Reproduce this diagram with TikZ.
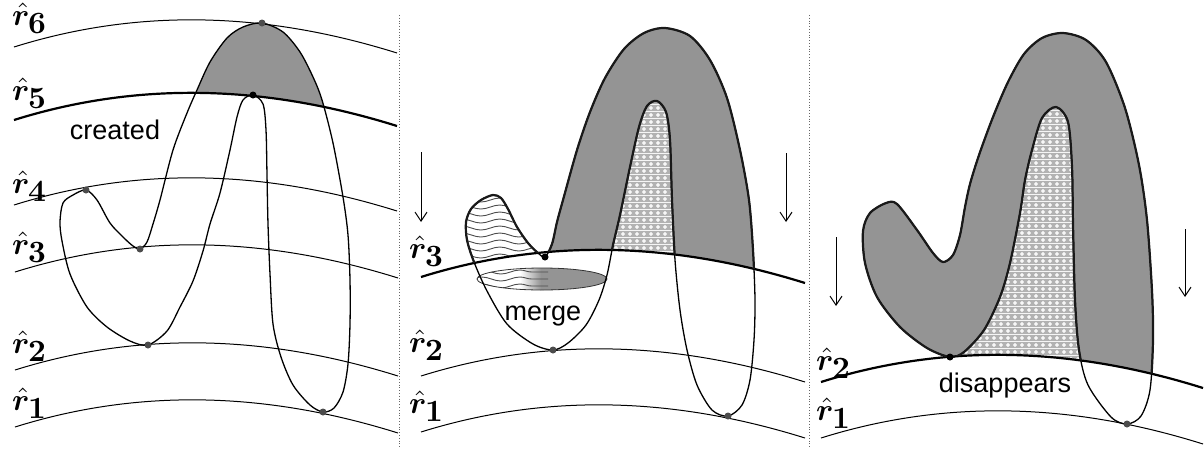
\documentclass[tikz,border=0pt]{standalone}
\usepackage{fontspec}
\usepackage{graphicx}
\usepackage{bm}
\usetikzlibrary{arrows.meta,patterns.meta,decorations.pathmorphing}
\newfontfamily\labfont{Liberation Sans}

% light grey tile with white plus signs
\tikzdeclarepattern{
  name=plusgrid,
  type=colored,
  bottom left={(0pt,0pt)},
  top right={(6.5pt,6.5pt)},
  tile size={(6.5pt,6.5pt)},
  code={
    \fill[black!30] (0pt,0pt) rectangle (6.5pt,6.5pt);
    \draw[white,line width=1.2pt] (1.2pt,3.25pt) -- (5.3pt,3.25pt) (3.25pt,1.2pt) -- (3.25pt,5.3pt);
  }
}

% a level line r = const, bulging upwards
\newcommand\lvl[3]{(#1,#2) .. controls ({#1+(#3-#1)/3},{#2-40}) and ({#3-(#3-#1)/3},{#2-34}) .. (#3,{#2+6})}
% the region above such a level line
\newcommand\abovelvl[3]{\lvl{#1}{#2}{#3} -- (#3,-40) -- (#1,-40) -- cycle}

% the closed contour in the three stages
\def\curveA{plot[smooth cycle] coordinates {(262,23) (283,32) (300,52) (313,77) (322,100) (333,143) (343,197) (348,235) (350,280) (350,324) (348,364) (343,392) (334,408) (323,412) (310,405) (293,385) (281,357) (273,324) (270,274) (268,224) (267,175) (266,130) (263,104) (253,95) (243,100) (237,117) (230,150) (220,193) (210,224) (203,251) (193,281) (180,307) (167,331) (148,345) (130,341) (107,327) (87,307) (70,274) (62,241) (60,222) (63,203) (73,195) (86,190) (97,200) (110,223) (123,237) (133,246) (140,249) (147,242) (153,224) (160,200) (173,150) (187,113) (197,90) (210,62) (227,38) (243,27)}}
\def\curveB{plot[smooth cycle] coordinates {(665,28) (690,36) (710,60) (727,98) (740,150) (749,200) (753,250) (755,300) (754,340) (750,380) (742,405) (728,416) (712,410) (697,385) (687,350) (680,310) (675,260) (672,200) (670,140) (666,112) (657,101) (647,106) (639,127) (630,167) (620,215) (613,245) (607,275) (599,300) (586,325) (568,343) (553,350) (533,344) (507,324) (487,291) (474,262) (467,240) (466,222) (471,209) (481,200) (493,195) (501,198) (508,209) (517,227) (528,243) (538,253) (545,257) (552,244) (557,222) (563,200) (577,150) (590,112) (605,78) (624,49) (644,33)}}
\def\holeB{plot[smooth] coordinates {(697,385) (687,350) (680,310) (675,260) (672,200) (670,140) (666,112) (657,101) (647,106) (639,127) (630,167) (620,215) (613,245) (607,275) (599,300) (586,325)} -- cycle}
\def\curveC{plot[smooth cycle] coordinates {(1063,33) (1086,40) (1106,62) (1125,108) (1139,165) (1147,220) (1152,291) (1153,340) (1150,390) (1141,416) (1127,424) (1111,417) (1088,385) (1079,350) (1075,300) (1073,224) (1072,167) (1068,122) (1056,107) (1042,118) (1032,150) (1025,180) (1020,213) (1010,263) (1000,297) (984,330) (964,352) (950,357) (927,348) (900,327) (877,297) (865,263) (863,231) (870,213) (886,203) (897,204) (917,230) (933,253) (943,262) (953,255) (960,235) (965,207) (970,184) (979,155) (993,117) (1008,82) (1024,54) (1042,38)}}
\def\holeC{plot[smooth] coordinates {(1111,417) (1088,385) (1079,350) (1075,300) (1073,224) (1072,167) (1068,122) (1056,107) (1042,118) (1032,150) (1025,180) (1020,213) (1010,263) (1000,297) (984,330) (964,352) (950,357)} -- (950,445) -- (1111,445) -- cycle}

% level label: bold r with a hat and its index
\newcommand\rl[1]{\scalebox{3.1}{$\bm{\hat{r}}\kern-0.5pt\lower2.6pt\hbox{$\bm{#1}$}$}}

\begin{document}
\begin{tikzpicture}[x=1pt,y=-1pt,
  thinlvl/.style={line width=1pt,black},
  thicklvl/.style={line width=2.2pt,black},
  contour/.style={line width=1.3pt,black},
  rim/.style={line width=2.2pt,black!90},
  band/.style={fill=black!42},
  hole/.style={pattern=plusgrid},
  hatch/.style={black!70,line width=0.9pt,decorate,decoration={snake,amplitude=2pt,segment length=38pt}},
  crit/.style={circle,fill=black!70,inner sep=0pt,minimum size=7pt},
  critbold/.style={crit,fill=black},
  word/.style={font=\fontsize{27}{27}\selectfont\labfont,inner sep=0pt,anchor=base},
  rlab/.style={inner sep=0pt,anchor=base west},
  fall/.style={line width=1pt,-{Straight Barb[length=9pt,width=12pt]}},
  sep/.style={dotted,line width=0.8pt,black!60}]
\useasboundingbox (0,0) rectangle (1204,448);
\fill[white] (0,0) rectangle (1204,448);

% ---------- stage 1: a component is created at r5 ----------
\begin{scope}
  \clip \abovelvl{14}{120}{397};
  \fill[band] \curveA;
\end{scope}
\draw[thinlvl] \lvl{14}{47}{397};
\draw[thicklvl] \lvl{14}{120}{397};
\draw[thinlvl] \lvl{14}{205}{397};
\draw[thinlvl] \lvl{15}{272}{398};
\draw[thinlvl] \lvl{15}{370}{398};
\draw[thinlvl] \lvl{15}{427}{398};
\draw[contour] \curveA;
\node[crit] (a6) at (262,23) {};
\node[critbold] (a5) at (253,95) {};
\node[crit] (a4) at (86,190) {};
\node[crit] (a3) at (140,249) {};
\node[crit] (a2) at (148,345) {};
\node[crit] (a1) at (323,412) {};
\node[rlab] (la6) at (12,25) {\rl{6}};
\node[rlab] (la5) at (12,100) {\rl{5}};
\node[rlab] (la4) at (12,193) {\rl{4}};
\node[rlab] (la3) at (12,254) {\rl{3}};
\node[rlab] (la2) at (12,353) {\rl{2}};
\node[rlab] (la1) at (12,410) {\rl{1}};
\node[word] (created) at (115,139) {created};

\coordinate (s1t) at (399.5,15);
\coordinate (s1b) at (399.5,448);
\draw[sep] (s1t) -- (s1b);

% ---------- stage 2: two components merge at r3 ----------
\begin{scope}
  \clip \abovelvl{421}{277}{805};
  \fill[hole] \holeB;
\end{scope}
\begin{scope}
  \clip \abovelvl{421}{277}{805};
  \clip (546,-40) rectangle (810,448);
  \fill[band] \curveB;
\end{scope}
\begin{scope}
  \clip \abovelvl{421}{277}{805};
  \clip (400,0) rectangle (546,448);
  \clip \curveB;
  \foreach \yy in {200,207,...,270} \draw[hatch] (450,\yy) -- (560,\yy);
\end{scope}
% the merged piece just below r3
\begin{scope}
  \clip (542,279) ellipse [x radius=65pt,y radius=11pt];
  \fill[white] (470,260) rectangle (615,300);
  \fill[black!42] (540,260) rectangle (615,300);
  \shade[left color=white,right color=black!42] (520,260) rectangle (541,300);
  \foreach \yy in {272,279,286} \draw[hatch] (470,\yy) -- (548,\yy);
\end{scope}
\draw[line width=0.8pt,black!80] (542,279) ellipse [x radius=65pt,y radius=11pt];
\draw[thicklvl] \lvl{421}{277}{805};
\draw[thinlvl] \lvl{421}{376}{805};
\draw[thinlvl] \lvl{421}{432}{805};
\draw[contour] \curveB;
\begin{scope}
  \clip \abovelvl{421}{277}{805};
  \draw[rim] \curveB;
\end{scope}
\node[critbold] (b3) at (545,257) {};
\node[crit] (b2) at (553,350) {};
\node[crit] (b1) at (728,416) {};
\node[rlab] (lb3) at (409,258) {\rl{3}};
\node[rlab] (lb2) at (409,352) {\rl{2}};
\node[rlab] (lb1) at (409,413) {\rl{1}};
\node[word] (merge) at (543,320) {merge};
\coordinate (b-l-s) at (421,152);
\coordinate (b-l-e) at (421,222);
\coordinate (b-r-s) at (786,153);
\coordinate (b-r-e) at (786,222);
\draw[fall] (b-l-s) -- (b-l-e);
\draw[fall] (b-r-s) -- (b-r-e);

\coordinate (s2t) at (809.5,15);
\coordinate (s2b) at (809.5,448);
\draw[sep] (s2t) -- (s2b);

% ---------- stage 3: a component disappears at r2 ----------
\begin{scope}
  \clip \abovelvl{821}{382}{1203};
  \fill[hole] \holeC;
  \fill[band] \curveC;
\end{scope}
\draw[thicklvl] \lvl{821}{382}{1203};
\draw[thinlvl] \lvl{821}{438}{1203};
\draw[contour] \curveC;
\begin{scope}
  \clip \abovelvl{821}{382}{1203};
  \draw[rim] \curveC;
\end{scope}
\node[critbold] (c2) at (950,357) {};
\node[crit] (c1) at (1127,424) {};
\node[rlab] (lc2) at (816,370) {\rl{2}};
\node[rlab] (lc1) at (816,420) {\rl{1}};
\node[word] (disappears) at (1005,392) {disappears};
\coordinate (c-l-s) at (836,237);
\coordinate (c-l-e) at (836,306);
\coordinate (c-r-s) at (1185,229);
\coordinate (c-r-e) at (1185,297);
\draw[fall] (c-l-s) -- (c-l-e);
\draw[fall] (c-r-s) -- (c-r-e);
\end{tikzpicture}
\end{document}
